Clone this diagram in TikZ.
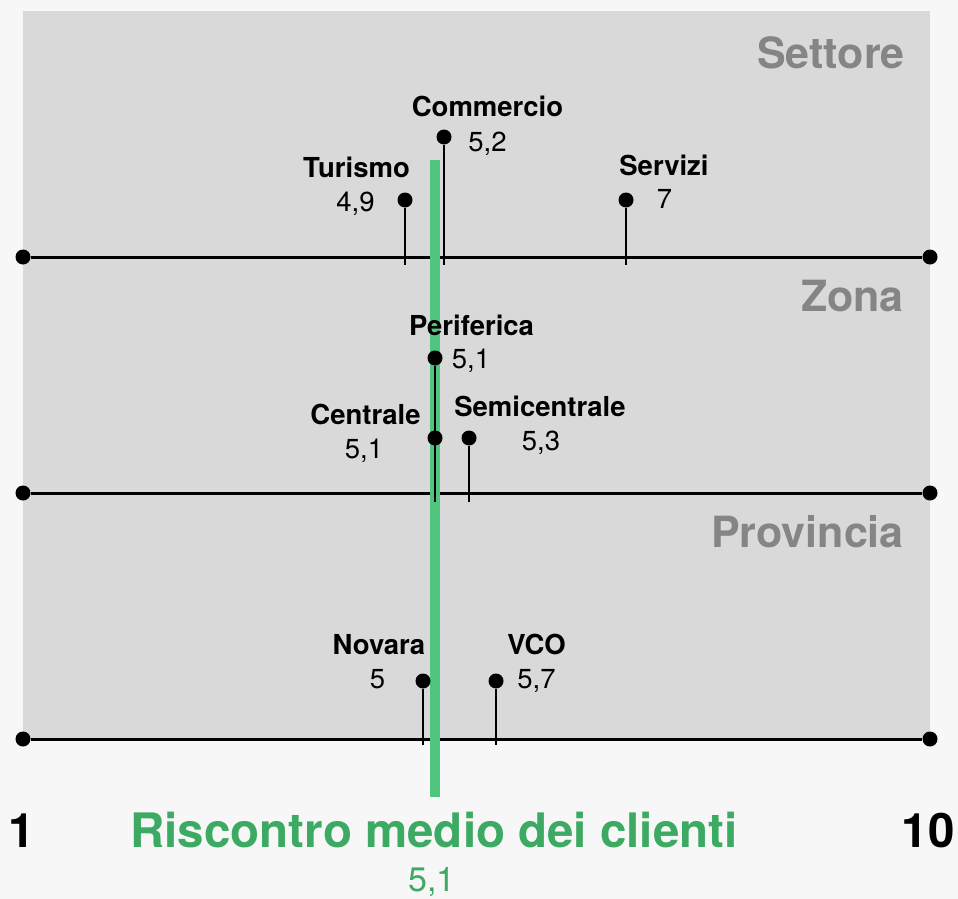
\documentclass[tikz,border=0pt]{standalone}
\usepackage{fontspec}
\setmainfont{TeX Gyre Heros}
\usepackage{tikz}
\usetikzlibrary{positioning, calc}

\definecolor{bgout}{HTML}{F7F7F7}
\definecolor{panel}{HTML}{D9D9D9}
\definecolor{sectgray}{HTML}{858585}
\definecolor{meanline}{HTML}{50C57F}
\definecolor{meantext}{HTML}{3DAA63}

\begin{document}
\begin{tikzpicture}[x=1pt, y=-1pt,
    dot/.style={circle, fill=black, inner sep=0pt, minimum size=15pt},
    axis/.style={line width=3pt},
    stem/.style={line width=2.5pt},
    lab/.style={inner sep=0pt, anchor=base, font=\fontsize{27.5}{27.5}\selectfont\bfseries},
    val/.style={inner sep=0pt, anchor=base, font=\fontsize{27.5}{27.5}\selectfont},
    sect/.style={inner sep=0pt, anchor=base east, text=sectgray, font=\fontsize{43}{43}\selectfont\bfseries},
    big/.style={inner sep=0pt, anchor=base, font=\fontsize{47.5}{47.5}\selectfont\bfseries}]

    % background and panel
    \fill[bgout] (0,0) rectangle (958,899);
    \fill[panel] (23,11) rectangle (930,739);

    % axes
    \node[dot] (a1) at (23,257) {};
    \node[dot] (b1) at (930,257) {};
    \node[dot] (a2) at (23,493) {};
    \node[dot] (b2) at (930,493) {};
    \node[dot] (a3) at (23,739) {};
    \node[dot] (b3) at (930,739) {};
    \draw[axis] (a1) -- (b1);
    \draw[axis] (a2) -- (b2);
    \draw[axis] (a3) -- (b3);

    % mean line
    \coordinate (mtop) at (435,160);
    \coordinate (mbot) at (435,797);
    \draw[meanline, line width=10pt] (mtop) -- (mbot);

    % section names
    \node[sect] (settore) at (905,69) {Settore};
    \node[sect] (zona) at (904,311) {Zona};
    \node[sect] (provincia) at (904,547) {Provincia};

    % Settore
    \node[dot] (tur) at (405,200) {};
    \node[dot] (com) at (444,137) {};
    \node[dot] (ser) at (626,200) {};
    \coordinate (tur-b) at (405,265);
    \coordinate (com-b) at (444,265);
    \coordinate (ser-b) at (626,265);
    \draw[stem] (tur) -- (tur-b);
    \draw[stem] (com) -- (com-b);
    \draw[stem] (ser) -- (ser-b);
    \node[lab] (tur-l) at (356.5,177) {Turismo};
    \node[val] (tur-v) at (355.5,211) {4,9};
    \node[lab] (com-l) at (487.5,116) {Commercio};
    \node[val] (com-v) at (487.5,151) {5,2};
    \node[lab] (ser-l) at (664,175) {Servizi};
    \node[val] (ser-v) at (664.5,208) {7};

    % Zona
    \node[dot] (per) at (435,358) {};
    \node[dot] (cen) at (435,438) {};
    \node[dot] (sem) at (469,438) {};
    \coordinate (per-b) at (435,502);
    \coordinate (sem-b) at (469,502);
    \draw[stem] (per) -- (per-b);
    \draw[stem] (sem) -- (sem-b);
    \node[lab] (per-l) at (471.5,335) {Periferica};
    \node[val] (per-v) at (471,368) {5,1};
    \node[lab] (cen-l) at (365.5,424) {Centrale};
    \node[val] (cen-v) at (364,458) {5,1};
    \node[lab] (sem-l) at (540,416) {Semicentrale};
    \node[val] (sem-v) at (541,450) {5,3};

    % Provincia
    \node[dot] (nov) at (423,681) {};
    \node[dot] (vco) at (496,681) {};
    \coordinate (nov-b) at (423,745);
    \coordinate (vco-b) at (496,745);
    \draw[stem] (nov) -- (nov-b);
    \draw[stem] (vco) -- (vco-b);
    \node[lab] (nov-l) at (379,654) {Novara};
    \node[val] (nov-v) at (377.5,688) {5};
    \node[lab] (vco-l) at (536.5,654) {VCO};
    \node[val] (vco-v) at (536.5,688) {5,7};

    % scale and mean
    \node[big] (min) at (21.5,847) {1};
    \node[big] (max) at (928,847) {10};
    \node[big, text=meantext] (mean) at (434,847) {Riscontro medio dei clienti};
    \node[val, text=meantext, font=\fontsize{34}{34}\selectfont] (mean-v) at (432,891) {5,1};
\end{tikzpicture}
\end{document}
